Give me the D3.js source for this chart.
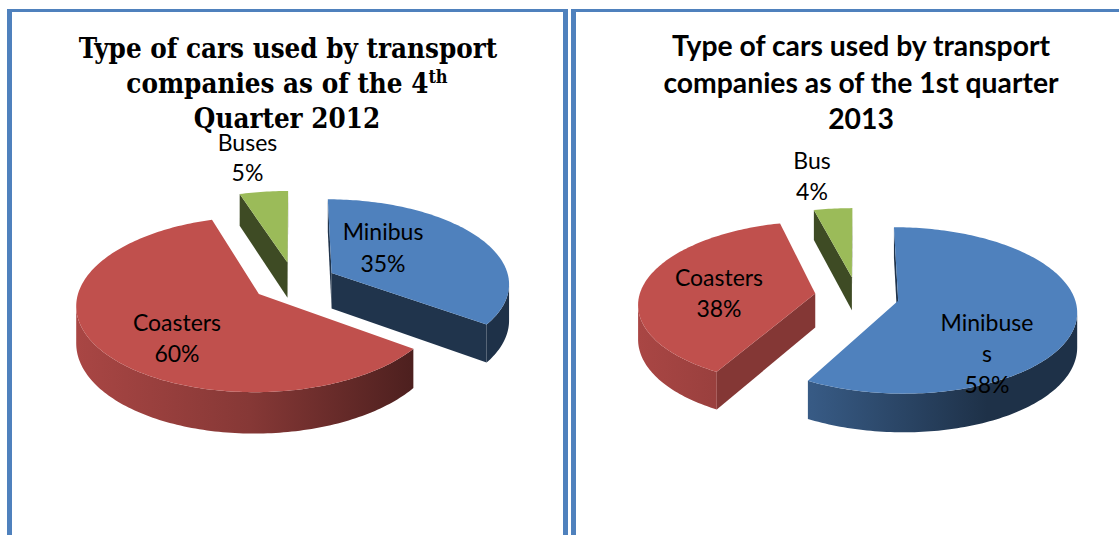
<!DOCTYPE html>
<html>
<head>
<meta charset="utf-8">
<script src="https://cdn.jsdelivr.net/npm/d3@7"></script>
<style>
  html, body { margin: 0; padding: 0; background: #fff; }
  svg { display: block; }
  .title1 { font-family: "DejaVu Serif", serif; font-stretch: condensed; font-weight: bold; font-size: 27.5px; }
  .title2 { font-family: Lato, sans-serif; font-weight: bold; font-size: 28.3px; }
  .label { font-family: Lato, sans-serif; font-size: 23px; }
</style>
</head>
<body>
<div id="chart"></div>
<script>
// Data
const categories2012 = ['Minibus', 'Coasters', 'Buses'];
const values2012 = [35, 60, 5];
const categories2013 = ['Minibuses', 'Coasters', 'Bus'];
const values2013 = [58, 38, 4];
const sliceColors = ['#4f81bd', '#c0504d', '#9bbb59'];

const titleLines2012 = ['Type of cars used by transport', 'companies as of the 4', 'Quarter 2012'];
const titleLines2013 = ['Type of cars used by transport', 'companies as of the 1st quarter', '2013'];

// Set up the page and the fake 3D camera
const width = 1119;
const height = 535;
const perspective = 0.114;
const explode = 0.24;

const svg = d3.select('#chart').append('svg')
  .attr('width', width)
  .attr('height', height);

const defs = svg.append('defs');

// Frame lines
const frameColor = '#4f81bd';
const frame = svg.append('g').attr('fill', frameColor);
frame.append('rect').attr('x', 7).attr('y', 9).attr('width', 561).attr('height', 3);
frame.append('rect').attr('x', 571).attr('y', 9).attr('width', 548).attr('height', 3);
frame.append('rect').attr('x', 7).attr('y', 9).attr('width', 5).attr('height', 526);
frame.append('rect').attr('x', 563).attr('y', 9).attr('width', 5).attr('height', 526);
frame.append('rect').attr('x', 571).attr('y', 9).attr('width', 5).attr('height', 526);

function drawPie(id, cx, cy, radiusX, radiusY, wallHeight, values) {
  const g = svg.append('g').attr('transform', `translate(${cx},${cy})`);
  const arcs = d3.pie().sort(null)(values);
  const line = d3.line();

  // Project a point of the tilted disc on the screen
  const project = (x, y, z) => {
    const s = 1 / (1 + perspective * y);
    return [radiusX * x * s, -radiusY * y * s + wallHeight * z * s];
  };

  arcs.forEach((d, i) => {
    const mid = (d.startAngle + d.endAngle) / 2;
    const ox = explode * Math.sin(mid);
    const oy = explode * Math.cos(mid);
    const steps = Math.ceil((d.endAngle - d.startAngle) / 0.02);
    const angles = d3.range(steps + 1).map(k => d.startAngle + (d.endAngle - d.startAngle) * k / steps);
    const rim = z => angles.map(a => project(ox + Math.sin(a), oy + Math.cos(a), z));
    const apex = z => project(ox, oy, z);
    const base = d3.rgb(sliceColors[i]);
    const shade = f => d3.rgb(base.r * f, base.g * f, base.b * f);

    // Rim is shaded from left to right, the group is already translated
    const gradId = `${id}-rim-${i}`;
    const grad = defs.append('linearGradient')
      .attr('id', gradId)
      .attr('gradientUnits', 'userSpaceOnUse')
      .attr('x1', -218).attr('y1', 0)
      .attr('x2', 130).attr('y2', 0);
    grad.append('stop').attr('offset', 0).attr('stop-color', shade(0.88));
    grad.append('stop').attr('offset', 0.5).attr('stop-color', shade(0.7));
    grad.append('stop').attr('offset', 1).attr('stop-color', shade(0.38));

    const top = rim(0);
    const bottom = rim(1);

    // Flat cut walls, seen only where the edge runs to the left
    const first = top[0];
    const last = top[top.length - 1];
    [[apex(0), first, apex(1), bottom[0]], [last, apex(0), bottom[bottom.length - 1], apex(1)]].forEach(w => {
      if (w[1][0] < w[0][0]) {
        g.append('path')
          .attr('d', line([w[0], w[1], w[3], w[2]]) + 'Z')
          .attr('fill', i === 1 ? shade(0.69) : shade(0.4));
      }
    });

    // Rim: only the runs that head left on the screen
    let run = [];
    const flush = () => {
      if (run.length > 1) {
        const pts = run.map(k => top[k]).concat(run.slice().reverse().map(k => bottom[k]));
        g.append('path').attr('d', line(pts) + 'Z').attr('fill', `url(#${gradId})`);
      }
      run = [];
    };
    top.forEach((p, k) => {
      if (k > 0 && p[0] < top[k - 1][0]) {
        if (!run.length) run.push(k - 1);
        run.push(k);
      } else {
        flush();
      }
    });
    flush();

    // Top face
    g.append('path')
      .attr('d', line([apex(0)].concat(top)) + 'Z')
      .attr('fill', sliceColors[i]);
  });
}

drawPie('p2012', 294, 282, 178, 84, 36, values2012);
drawPie('p2013', 857, 296, 176, 81, 34, values2013);

// Titles
const t1 = svg.append('g').attr('class', 'title1').attr('text-anchor', 'middle').attr('fill', '#000');
t1.append('text').attr('x', 288).attr('y', 57.5).text(titleLines2012[0]);
const t1b = t1.append('text').attr('x', 287).attr('y', 92.5).text(titleLines2012[1]);
t1b.append('tspan').attr('dy', -10).style('font-size', '18px').text('th');
t1.append('text').attr('x', 287).attr('y', 127.5).text(titleLines2012[2]);

const t2 = svg.append('g').attr('class', 'title2').attr('text-anchor', 'middle').attr('fill', '#000');
titleLines2013.forEach((s, i) => {
  t2.append('text').attr('x', 861).attr('y', [55.5, 92.5, 128.5][i]).text(s);
});

// Data labels, wrapped as in the picture
const pct = d => d + '%';
const labelRows = [
  [247.5, 150.5, categories2012[2]], [247.5, 180.5, pct(values2012[2])],
  [383, 239.5, categories2012[0]], [383, 271.5, pct(values2012[0])],
  [177, 330.5, categories2012[1]], [177, 361.5, pct(values2012[1])],
  [812, 169, categories2013[2]], [812, 200, pct(values2013[2])],
  [719, 285.5, categories2013[1]], [719, 316.5, pct(values2013[1])],
  [987, 330.5, categories2013[0].slice(0, 8)], [987, 361.5, categories2013[0].slice(8)], [987, 392.5, pct(values2013[0])]
];
svg.append('g').selectAll('text')
  .data(labelRows)
  .enter().append('text')
  .attr('class', 'label')
  .attr('text-anchor', 'middle')
  .attr('x', d => d[0])
  .attr('y', d => d[1])
  .text(d => d[2]);
</script>
</body>
</html>
